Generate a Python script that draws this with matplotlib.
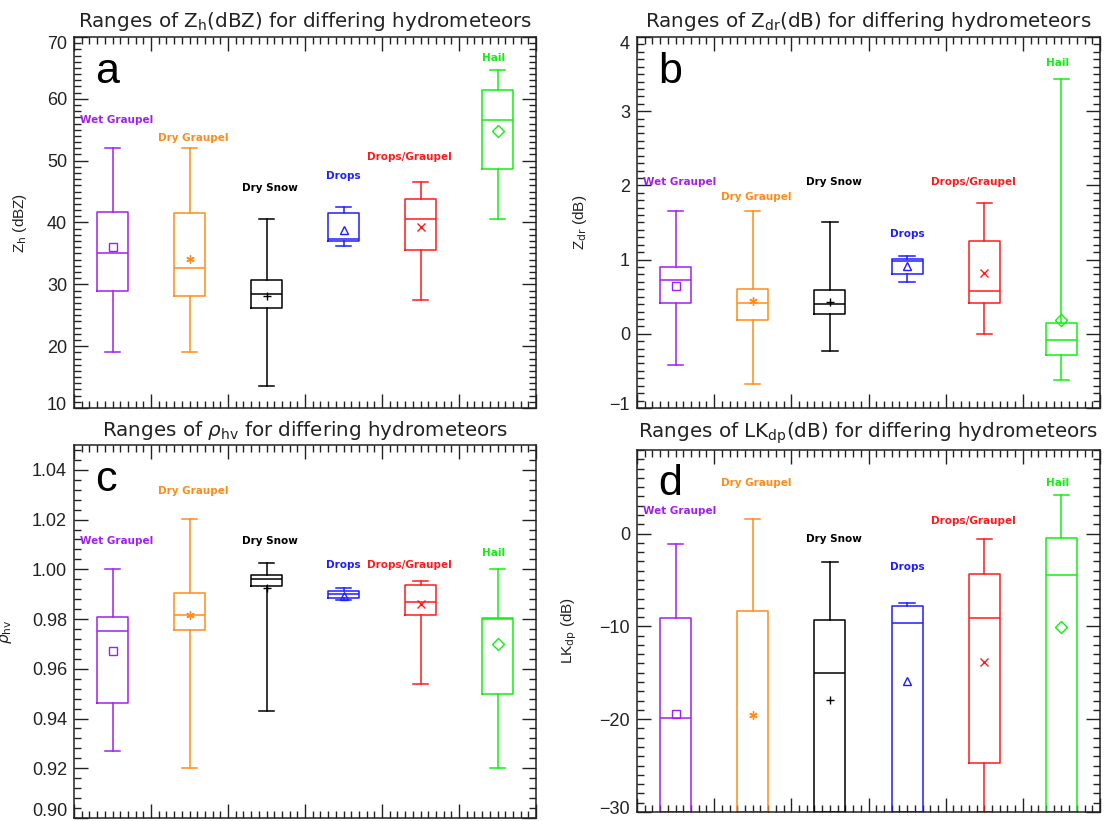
import matplotlib
matplotlib.use('Agg')
import matplotlib.pyplot as plt
from matplotlib.ticker import MultipleLocator, FormatStrFormatter
from matplotlib.transforms import ScaledTranslation
import numpy as np

plt.rcParams['mathtext.fontset'] = 'dejavusans'

categories = ['Wet Graupel', 'Dry Graupel', 'Dry Snow', 'Drops', 'Drops/Graupel', 'Hail']
colors = ['#A020F0', '#FF8C1A', '#000000', '#1E1EFF', '#FF1A1A', '#10F010']
mean_markers = ['s', (6, 2, 0), '+', '^', 'x', 'D']

# panel a : Zh (dBZ)
zh_whislo = [19.0, 19.0, 13.6, 36.2, 27.5, 40.5]
zh_q1 = [29.0, 28.1, 26.1, 37.0, 35.5, 48.6]
zh_med = [35.0, 32.7, 28.4, 37.4, 40.5, 56.5]
zh_q3 = [41.7, 41.6, 30.7, 41.6, 43.8, 61.5]
zh_whishi = [52.0, 52.0, 40.5, 42.5, 46.5, 64.6]
zh_mean = [36.1, 34.1, 28.1, 38.8, 39.2, 54.8]
zh_label_y = [56.6, 53.6, 45.5, 47.5, 50.6, 66.6]

# panel b : Zdr (dB)
zdr_whislo = [-0.42, -0.68, -0.23, 0.70, 0.0, -0.62]
zdr_q1 = [0.42, 0.18, 0.27, 0.81, 0.42, -0.28]
zdr_med = [0.72, 0.42, 0.405, 0.98, 0.58, -0.09]
zdr_q3 = [0.90, 0.61, 0.595, 1.01, 1.25, 0.14]
zdr_whishi = [1.66, 1.66, 1.50, 1.05, 1.76, 3.44]
zdr_mean = [0.65, 0.44, 0.43, 0.92, 0.82, 0.18]
zdr_label_y = [2.05, 1.85, 2.05, 1.35, 2.05, 3.65]

# panel c : rho_hv
rho_whislo = [0.9268, 0.9200, 0.9429, 0.9878, 0.9538, 0.9200]
rho_q1 = [0.9461, 0.9757, 0.9933, 0.9886, 0.9818, 0.9500]
rho_med = [0.9752, 0.9818, 0.9962, 0.9900, 0.9870, 0.9800]
rho_q3 = [0.9808, 0.9905, 0.9978, 0.9911, 0.9936, 0.9804]
rho_whishi = [1.0000, 1.0202, 1.0026, 0.9924, 0.9955, 1.0000]
rho_mean = [0.9671, 0.9818, 0.9924, 0.9893, 0.9861, 0.9698]
rho_label_y = [1.0115, 1.0317, 1.0115, 1.0017, 1.0017, 1.0065]

# panel d : LKdp (dB)
lkdp_whislo = [-30.0, -30.0, -30.0, -30.0, -30.0, -30.0]
lkdp_q1 = [-30.0, -30.0, -30.0, -30.0, -24.74, -30.0]
lkdp_med = [-19.9, -30.0, -15.0, -9.62, -9.12, -4.45]
lkdp_q3 = [-9.05, -8.33, -9.34, -7.83, -4.38, -0.47]
lkdp_whishi = [-1.08, 1.54, -3.12, -7.47, -0.57, 4.2]
lkdp_mean = [-19.4, -19.5, -17.95, -15.9, -13.8, -10.1]
lkdp_label_y = [2.44, 5.4, -0.6, -3.6, 1.36, 5.4]

label_dx = [0.05, 0.05, 0.05, 0.0, -0.14, -0.05]

fig = plt.figure(figsize=(11.07, 8.21), dpi=100)
W, H = 1107.0, 821.0


def make_axes(left, right, top, bottom):
    return fig.add_axes([left / W, 1 - bottom / H, (right - left) / W, (bottom - top) / H])


def panel(ax, whislo, q1, med, q3, whishi, mean, label_y, ylim, major, minor,
          title, title_y, ylabel, ylabel_x, letter):
    pos = np.arange(len(categories)) + 0.5
    stats = []
    for i in range(len(categories)):
        stats.append(dict(whislo=whislo[i], q1=q1[i], med=med[i], q3=q3[i],
                          whishi=whishi[i], mean=mean[i], fliers=[]))
    art = ax.bxp(stats, positions=pos, widths=0.4, showmeans=True,
                 showfliers=False, manage_ticks=False)
    for i, c in enumerate(colors):
        for a in [art['boxes'][i], art['medians'][i],
                  art['whiskers'][2 * i], art['whiskers'][2 * i + 1],
                  art['caps'][2 * i], art['caps'][2 * i + 1]]:
            a.set_color(c)
            a.set_linewidth(1.1)
        m = art['means'][i]
        m.set_marker(mean_markers[i])
        m.set_markeredgecolor(c)
        m.set_markerfacecolor('none')
        m.set_markersize(6)
        m.set_markeredgewidth(1.0)
        ax.text(pos[i] + label_dx[i], label_y[i], categories[i], color=c,
                fontsize=7.5, fontweight='bold', ha='center', va='center')
    ax.set_xlim(0, 6)
    ax.set_ylim(*ylim)
    ax.xaxis.set_major_locator(MultipleLocator(1))
    ax.xaxis.set_minor_locator(MultipleLocator(0.1))
    ax.yaxis.set_major_locator(MultipleLocator(major))
    ax.yaxis.set_minor_locator(MultipleLocator(minor))
    ax.tick_params(which='both', direction='in', top=True, right=True,
                   labelbottom=False, color='#222222')
    ax.tick_params(which='major', length=10, width=1)
    ax.tick_params(which='minor', length=5, width=1)
    ax.tick_params(axis='y', labelsize=13, labelcolor='#222222', pad=5)
    for s in ax.spines.values():
        s.set_linewidth(1.1)
        s.set_color('#222222')
    ax.text(0.5, title_y, title, transform=ax.transAxes, ha='center',
            va='center', fontsize=14.3, color='#222222')
    ax.set_ylabel(ylabel, fontsize=11, family='Liberation Sans', color='#222222')
    ax.yaxis.set_label_coords(ylabel_x, 0.5)
    ax.text(0.045, 0.905, letter, transform=ax.transAxes, fontsize=31,
            family='Liberation Sans', va='center', ha='left')


ax_a = make_axes(74, 536, 37, 408)
ax_b = make_axes(637, 1100, 37, 408)
ax_c = make_axes(74, 536, 445, 818)
ax_d = make_axes(637, 1100, 450, 812)

panel(ax_a, zh_whislo, zh_q1, zh_med, zh_q3, zh_whishi, zh_mean, zh_label_y,
      (10, 70), 10, 1, r'Ranges of Z$_\mathrm{h}$(dBZ) for differing hydrometeors',
      1.043, r'Z$_\mathrm{h}$ (dBZ)', -0.097, 'a')
panel(ax_b, zdr_whislo, zdr_q1, zdr_med, zdr_q3, zdr_whishi, zdr_mean, zdr_label_y,
      (-1, 4), 1, 0.1, r'Ranges of Z$_\mathrm{dr}$(dB) for differing hydrometeors',
      1.043, r'Z$_\mathrm{dr}$ (dB)', -0.104, 'b')
panel(ax_c, rho_whislo, rho_q1, rho_med, rho_q3, rho_whishi, rho_mean, rho_label_y,
      (0.90, 1.05), 0.02, 0.004, r'Ranges of $\rho_\mathrm{hv}$ for differing hydrometeors',
      1.040, r'$\rho_\mathrm{hv}$', -0.13, 'c')
panel(ax_d, lkdp_whislo, lkdp_q1, lkdp_med, lkdp_q3, lkdp_whishi, lkdp_mean, lkdp_label_y,
      (-30, 9), 10, 1, r'Ranges of LK$_\mathrm{dp}$(dB) for differing hydrometeors',
      1.047, r'LK$_\mathrm{dp}$ (dB)', -0.125, 'd')
ax_c.yaxis.set_major_formatter(FormatStrFormatter('%.2f'))

# nudge the end labels inside the frame, like the original plot
fig.canvas.draw()
for ax, shift in [(ax_a, 5), (ax_b, 5), (ax_c, 9), (ax_d, 4)]:
    lo, hi = ax.get_ylim()
    for t in ax.yaxis.get_major_ticks():
        t.label1.set_family('Liberation Sans')
        dy = 0
        if abs(t.get_loc() - lo) < 1e-6 * max(1, abs(lo)):
            dy = shift
        elif abs(t.get_loc() - hi) < 1e-6 * max(1, abs(hi)):
            dy = -6
        if dy:
            t.label1.set_transform(t.label1.get_transform() +
                                   ScaledTranslation(0, dy / 100, fig.dpi_scale_trans))

fig.savefig('out.png', dpi=100)
